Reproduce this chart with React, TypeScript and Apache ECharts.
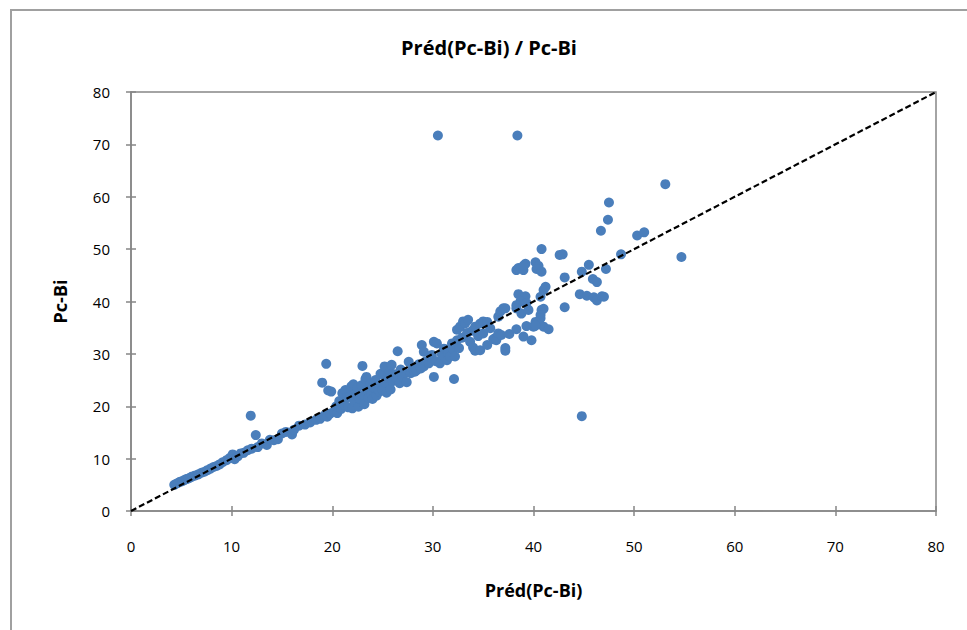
import React, { useEffect, useRef } from "react";
import * as echarts from "echarts";

const titleText = "Préd(Pc-Bi) / Pc-Bi";
const xAxisName = "Préd(Pc-Bi)";
const yAxisName = "Pc-Bi";
const axisMin = 0;
const axisMax = 80;
const axisStep = 10;

const lowRange: number[][] = [
  [4.3, 5.0], [4.5, 5.2], [4.7, 5.4], [4.9, 5.6], [5.1, 5.7], [5.3, 5.9], [5.5, 6.1], [5.7, 6.2],
  [5.9, 6.4], [6.1, 6.6], [6.4, 6.8], [6.7, 7.0], [7.0, 7.3], [7.3, 7.5], [7.6, 7.8], [7.9, 8.1],
  [8.2, 8.4], [8.5, 8.6], [8.8, 8.9], [9.1, 9.3], [9.5, 9.7], [9.8, 10.1], [10.1, 10.8], [10.3, 9.9],
  [10.6, 10.4], [10.9, 11.0], [11.2, 11.1], [11.6, 11.6], [11.9, 18.2], [12.0, 11.9], [12.4, 14.5],
  [12.6, 12.2], [13.0, 12.9], [13.5, 12.6], [13.8, 13.6], [14.2, 13.5], [14.6, 13.7], [15.0, 14.8],
  [15.4, 15.1], [16.0, 14.6], [16.2, 15.5], [16.7, 16.3], [17.3, 16.5], [17.8, 16.9], [18.4, 17.4],
  [18.8, 17.6], [19.2, 18.2], [19.0, 24.5], [19.4, 28.1], [19.6, 23.0], [19.9, 22.8], [19.5, 18.0],
  [19.8, 18.6], [20.2, 19.0], [20.5, 18.7],
];

const midRange: number[][] = [
  [20.4, 20.0], [20.7, 21.0], [20.9, 19.5], [21.0, 22.5], [21.2, 20.3], [21.3, 23.1], [21.5, 21.7],
  [21.6, 19.8], [21.8, 22.0], [21.9, 23.8], [22.0, 19.6], [22.1, 24.2], [22.2, 20.9], [22.4, 22.4],
  [22.5, 23.5], [22.6, 19.9], [22.7, 21.5], [22.9, 24.0], [23.0, 27.7], [23.1, 22.1], [23.2, 20.4],
  [23.3, 25.2], [23.4, 25.6], [23.5, 23.0], [23.6, 21.6], [23.8, 24.3], [23.9, 22.4], [24.0, 21.4],
  [24.1, 23.6], [24.3, 25.0], [24.4, 22.0], [24.6, 24.0], [24.7, 22.8], [24.8, 26.2], [25.0, 23.1],
  [25.1, 26.0], [25.2, 27.6], [25.3, 24.5], [25.4, 22.6], [25.5, 25.5], [25.7, 26.6], [25.8, 23.2],
  [25.9, 27.9], [26.0, 24.8], [26.2, 26.1], [26.4, 25.3], [26.5, 30.5], [26.7, 24.4], [26.8, 27.0],
  [27.0, 25.6], [27.2, 26.4], [27.4, 24.6], [27.6, 28.5], [27.8, 26.3], [28.0, 27.3], [28.2, 26.6],
  [28.4, 26.9], [28.6, 28.0], [28.8, 27.2], [28.9, 31.7], [29.1, 30.4], [29.1, 27.6], [29.3, 28.6],
  [29.6, 28.2], [29.8, 29.3], [29.9, 29.8], [30.1, 32.3], [30.1, 25.6], [30.3, 28.6], [30.4, 32.0],
  [30.5, 71.7], [30.7, 28.2], [30.9, 29.9], [31.1, 31.0], [31.4, 28.8], [31.5, 30.2], [31.7, 29.5],
  [31.9, 32.0], [32.0, 31.0], [32.1, 25.2], [32.2, 29.5], [32.4, 32.6], [32.4, 34.6], [32.6, 31.1],
  [32.7, 35.2], [32.9, 33.1], [33.0, 36.2], [33.2, 35.8], [33.4, 34.0], [33.5, 36.5], [33.7, 32.3],
  [33.9, 34.4], [34.0, 31.2], [34.2, 35.2], [34.2, 30.6], [34.5, 33.4], [34.7, 35.8], [34.7, 30.7],
  [35.0, 33.9], [35.0, 36.2], [35.4, 36.1], [35.4, 31.7], [35.7, 34.9], [36.0, 32.8], [36.2, 33.0],
  [36.3, 32.6], [36.5, 37.1], [36.5, 33.9], [36.7, 38.1], [36.8, 33.6], [37.0, 38.7], [37.2, 30.6],
  [37.2, 31.1], [37.2, 38.7], [37.6, 33.8],
];

const highRange: number[][] = [
  [38.4, 71.7], [38.3, 46.0], [38.5, 46.4], [39.0, 46.0], [39.2, 47.2], [39.0, 46.8], [40.2, 47.5],
  [40.5, 46.8], [40.3, 46.2], [40.8, 45.7], [40.8, 50.0], [42.6, 48.9], [42.9, 49.0], [43.1, 44.6],
  [44.8, 45.7], [45.5, 47.0], [47.2, 46.2], [45.9, 44.3], [46.3, 43.7], [41.2, 42.8], [41.0, 42.2],
  [38.5, 41.4], [39.2, 41.0], [40.7, 40.9], [44.6, 41.4], [45.3, 41.1], [46.0, 40.8], [46.3, 40.2],
  [46.8, 41.0], [47.0, 40.9], [43.1, 38.9], [38.7, 40.0], [38.3, 39.3], [39.3, 39.7], [38.3, 38.7],
  [38.8, 37.7], [39.5, 38.4], [40.8, 38.4], [41.0, 38.6], [40.7, 37.4], [40.7, 36.8], [40.2, 36.1],
  [41.0, 35.2], [41.5, 34.7], [40.0, 35.2], [39.3, 35.3], [38.3, 34.7], [39.0, 33.3], [39.8, 32.6],
  [40.2, 35.4], [44.8, 18.1], [47.5, 58.9], [47.4, 55.6], [46.7, 53.5], [50.3, 52.6], [51.0, 53.2],
  [53.1, 62.4], [48.7, 49.0], [54.7, 48.5],
];

const identityLine: number[][] = [
  [0, 0],
  [80, 80],
];

const FONT = "'Open Sans', 'Noto Sans', sans-serif";

export default function App() {
  const ref = useRef<HTMLDivElement>(null);
  useEffect(() => {
    document.body.style.margin = "0";
    if (!ref.current) return;
    const chart = echarts.init(ref.current, null, { renderer: "svg" });
    const axisLine = { show: true, lineStyle: { color: "#868686", width: 1.5 } };
    const labelStyle = { color: "#000", fontSize: 15, fontFamily: FONT };
    const nameStyle = { fontSize: 18, fontWeight: "bold", color: "#000", fontFamily: FONT };
    chart.setOption({
      animation: false,
      backgroundColor: "#fff",
      title: {
        text: titleText,
        left: 484,
        textAlign: "center",
        top: 32,
        textStyle: { fontSize: 20, fontWeight: "bold", color: "#000", fontFamily: FONT },
      },
      graphic: [
        {
          type: "rect",
          shape: { x: 11, y: 10, width: 1000, height: 700 },
          style: { fill: "none", stroke: "#a0a0a0", lineWidth: 2 },
          silent: true,
        },
      ],
      grid: {
        left: 131,
        right: 31,
        top: 92,
        bottom: 119,
        show: true,
        borderColor: "#868686",
        borderWidth: 1.5,
        backgroundColor: "transparent",
      },
      xAxis: [
        {
          type: "value",
          min: axisMin,
          max: axisMax,
          interval: axisStep,
          position: "bottom",
          name: xAxisName,
          nameLocation: "middle",
          nameGap: 70,
          nameTextStyle: nameStyle,
          axisLine,
          axisTick: { show: true, length: 5, lineStyle: { color: "#868686", width: 1.5 } },
          axisLabel: { ...labelStyle, margin: 27 },
          splitLine: { show: false },
        },
        {
          type: "value",
          min: axisMin,
          max: axisMax,
          interval: axisStep,
          position: "bottom",
          axisLine: { show: false },
          axisTick: { show: true, inside: true, length: 5, lineStyle: { color: "#868686", width: 1.5 } },
          axisLabel: { show: false },
          splitLine: { show: false },
        },
      ],
      yAxis: [
        {
          type: "value",
          min: axisMin,
          max: axisMax,
          interval: axisStep,
          position: "left",
          name: yAxisName,
          nameLocation: "middle",
          nameGap: 62,
          nameTextStyle: nameStyle,
          axisLine,
          axisTick: { show: true, length: 5, lineStyle: { color: "#868686", width: 1.5 } },
          axisLabel: { ...labelStyle, margin: 21 },
          splitLine: { show: false },
        },
        {
          type: "value",
          min: axisMin,
          max: axisMax,
          interval: axisStep,
          position: "left",
          axisLine: { show: false },
          axisTick: { show: true, inside: true, length: 5, lineStyle: { color: "#868686", width: 1.5 } },
          axisLabel: { show: false },
          splitLine: { show: false },
        },
      ],
      series: [
        {
          type: "scatter",
          data: [...lowRange, ...midRange, ...highRange],
          symbol: "circle",
          symbolSize: 10,
          itemStyle: { color: "#4A7EBB", opacity: 1 },
          z: 2,
        },
        {
          type: "line",
          data: identityLine,
          symbol: "none",
          lineStyle: { color: "#000", width: 2.2, type: [6, 3] },
          z: 3,
        },
      ],
    });
    return () => chart.dispose();
  }, []);
  return <div ref={ref} style={{ width: 967, height: 630 }} />;
}
